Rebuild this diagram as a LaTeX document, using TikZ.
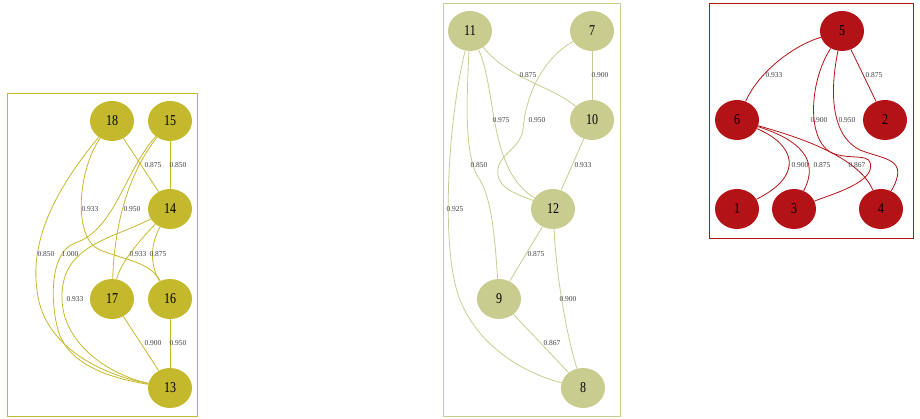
\documentclass[tikz,border=0pt]{standalone}
\usepackage{fontspec}
\setmainfont{Liberation Serif}
\newfontfamily\vtxfont[FakeStretch=0.8]{Liberation Serif}
\usetikzlibrary{shapes.geometric}
\definecolor{olv}{HTML}{C4B82C}
\definecolor{sage}{HTML}{C9CC8F}
\definecolor{crim}{HTML}{B31217}

\begin{document}
\begin{tikzpicture}[x=1pt,y=-1pt,vtx/.style={shape=ellipse,minimum width=44pt,minimum height=40pt,inner sep=0pt,font=\vtxfont\fontsize{15}{15}\selectfont},vtxA/.style={vtx,fill=olv},vtxB/.style={vtx,fill=sage},vtxC/.style={vtx,fill=crim},wt/.style={inner sep=0pt,text=black!75,font=\fontsize{7.5}{7.5}\selectfont},lnkA/.style={draw=olv,line width=0.8pt},lnkB/.style={draw=sage,line width=0.8pt},lnkC/.style={draw=crim,line width=0.8pt}]
\useasboundingbox (0,0) rectangle (920,419);

\draw[olv,line width=0.8pt] (7,93) rectangle (197,416);
\draw[sage,line width=0.8pt] (443,3) rectangle (620,416);
\draw[crim,line width=0.8pt] (709,3) rectangle (913,238);

\node[vtxA] (n18) at (112,121) {18};
\node[vtxA] (n15) at (170,121) {15};
\node[vtxA] (n14) at (170,209) {14};
\node[vtxA] (n17) at (112,299) {17};
\node[vtxA] (n16) at (170,299) {16};
\node[vtxA] (n13) at (170,388) {13};

\draw[lnkA] (n18) -- (n14);
\draw[lnkA] (n15) -- (n14);
\draw[lnkA] (n18) .. controls (78,170) and (72,238) .. (100,250) .. controls (125,260) and (150,262) .. (n16);
\draw[lnkA] (n15) .. controls (135,165) and (115,210) .. (n17);
\draw[lnkA] (n18) .. controls (55,190) and (30,240) .. (37,290) .. controls (42,340) and (90,372) .. (n13);
\draw[lnkA] (n15) .. controls (125,170) and (115,230) .. (75,243) .. controls (50,252) and (50,300) .. (58,330) .. controls (68,365) and (110,378) .. (n13);
\draw[lnkA] (n14) .. controls (135,245) and (120,265) .. (n17);
\draw[lnkA] (n14) .. controls (150,245) and (150,265) .. (n16);
\draw[lnkA] (n14) .. controls (110,240) and (60,245) .. (62,300) .. controls (64,345) and (110,375) .. (n13);
\draw[lnkA] (n17) -- (n13);
\draw[lnkA] (n16) -- (n13);

\node[wt] (w1) at (153,165) {0.875};
\node[wt] (w2) at (178,165) {0.850};
\node[wt] (w3) at (90,209) {0.933};
\node[wt] (w4) at (132,209) {0.950};
\node[wt] (w5) at (46,254) {0.850};
\node[wt] (w6) at (70,254) {1.000};
\node[wt] (w7) at (138,254) {0.933};
\node[wt] (w8) at (158,254) {0.875};
\node[wt] (w9) at (75,299) {0.933};
\node[wt] (w10) at (153,343) {0.900};
\node[wt] (w11) at (178,343) {0.950};

\node[vtxB] (n11) at (470,31) {11};
\node[vtxB] (n7) at (592,31) {7};
\node[vtxB] (n10) at (592,120) {10};
\node[vtxB] (n12) at (553,209) {12};
\node[vtxB] (n9) at (499,299) {9};
\node[vtxB] (n8) at (583,388) {8};

\draw[lnkB] (n11) .. controls (510,80) and (550,85) .. (n10);
\draw[lnkB] (n7) -- (n10);
\draw[lnkB] (n11) .. controls (497,90) and (488,170) .. (n12);
\draw[lnkB] (n7) .. controls (540,60) and (525,100) .. (523,130) .. controls (520,150) and (495,155) .. (498,175) .. controls (500,190) and (520,195) .. (n12);
\draw[lnkB] (n11) .. controls (466,110) and (465,160) .. (480,180) .. controls (492,200) and (495,240) .. (n9);
\draw[lnkB] (n10) -- (n12);
\draw[lnkB] (n11) .. controls (448,120) and (440,250) .. (460,300) .. controls (480,350) and (530,375) .. (n8);
\draw[lnkB] (n12) -- (n9);
\draw[lnkB] (n12) .. controls (556,270) and (565,330) .. (n8);
\draw[lnkB] (n9) -- (n8);

\node[wt] (w12) at (528,75) {0.875};
\node[wt] (w13) at (600,75) {0.900};
\node[wt] (w14) at (501,120) {0.975};
\node[wt] (w15) at (537,120) {0.950};
\node[wt] (w16) at (479,165) {0.850};
\node[wt] (w17) at (583,165) {0.933};
\node[wt] (w18) at (455,209) {0.925};
\node[wt] (w19) at (536,254) {0.875};
\node[wt] (w20) at (568,299) {0.900};
\node[wt] (w21) at (552,343) {0.867};

\node[vtxC] (n5) at (842,31) {5};
\node[vtxC] (n6) at (737,120) {6};
\node[vtxC] (n2) at (885,120) {2};
\node[vtxC] (n1) at (737,209) {1};
\node[vtxC] (n3) at (794,209) {3};
\node[vtxC] (n4) at (881,209) {4};

\draw[lnkC] (n5) .. controls (795,45) and (760,70) .. (n6);
\draw[lnkC] (n5) -- (n2);
\draw[lnkC] (n5) .. controls (810,80) and (806,137) .. (830,152) .. controls (850,162) and (875,150) .. (870,170) .. controls (865,185) and (830,195) .. (n3);
\draw[lnkC] (n5) .. controls (830,90) and (830,135) .. (860,150) .. controls (885,160) and (910,158) .. (n4);
\draw[lnkC] (n6) .. controls (795,145) and (805,175) .. (n1);
\draw[lnkC] (n6) .. controls (800,140) and (820,160) .. (n3);
\draw[lnkC] (n6) .. controls (810,140) and (860,160) .. (n4);

\node[wt] (w22) at (774,75) {0.933};
\node[wt] (w23) at (874,75) {0.875};
\node[wt] (w24) at (819,120) {0.900};
\node[wt] (w25) at (847,120) {0.950};
\node[wt] (w26) at (800,165) {0.900};
\node[wt] (w27) at (822,165) {0.875};
\node[wt] (w28) at (857,165) {0.867};
\end{tikzpicture}
\end{document}
